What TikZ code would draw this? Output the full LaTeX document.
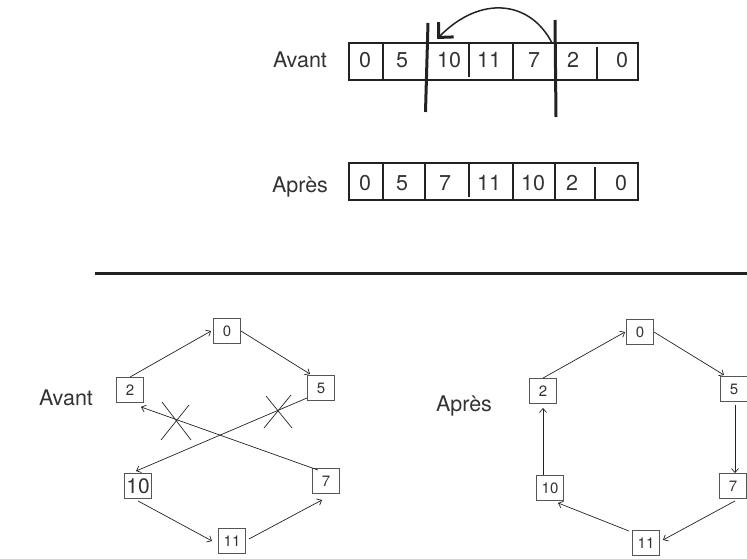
\documentclass[tikz,border=0pt]{standalone}
\usepackage{fontspec}
\setmainfont{TeX Gyre Heros}
\usetikzlibrary{arrows.meta}
\definecolor{txt}{HTML}{333333}
\definecolor{ln}{HTML}{222222}
\definecolor{bx}{HTML}{555555}
\tikzset{
  big/.style={font=\fontsize{21.5}{25}\selectfont, text=txt, inner sep=0pt, anchor=base},
  cellrow/.style={draw=ln, line width=1.3pt},
  bar/.style={draw=ln, line width=3pt},
  gnode/.style={draw=bx, line width=0.9pt, minimum width=27pt, minimum height=25pt, inner sep=0pt,
     font=\fontsize{15}{17}\selectfont, text=txt},
  garrow/.style={draw=ln, line width=0.7pt, -{Straight Barb[length=4pt,width=7pt,line width=0.7pt]}},
  crossline/.style={draw=ln, line width=0.7pt},
  curvearrow/.style={draw=ln, line width=1.5pt, -{Straight Barb[length=11pt,width=21pt,line width=3pt]}}
}
\begin{document}
\begin{tikzpicture}[x=1pt,y=-1pt]
\useasboundingbox (0,0) rectangle (747,559);

% ---------- Top array: Avant ----------
\node[big] (lavant) at (300,68) {Avant};
\draw[cellrow] (349,43) rectangle (638,80);
\draw[cellrow] (383,43) -- (383,80);
\draw[cellrow] (469,43) -- (469,77);
\draw[cellrow] (513,43) -- (513,80);
\draw[cellrow] (597,47) -- (597,80);
\node[big] (t0) at (365,68) {0};
\node[big] (t1) at (402,68) {5};
\node[big] (t2) at (449,68) {10};
\node[big] (t3) at (489,68) {11};
\node[big] (t4) at (534,68) {7};
\node[big] (t5) at (573,68) {2};
\node[big] (t6) at (622,68) {0};
\draw[bar] (428,23) -- (425.5,112);
\draw[bar] (555,20) -- (556,117);
\coordinate (cs) at (552,43);
\coordinate (ce) at (437,39);
\draw[curvearrow] (cs) .. controls (530,0) and (480,-5) .. (ce);

% ---------- Top array: Après ----------
\node[big] (lapres) at (300,192) {Après};
\draw[cellrow] (349,163) rectangle (638,200);
\draw[cellrow] (383,163) -- (383,200);
\draw[cellrow] (425,163) -- (425,200);
\draw[cellrow] (469,163) -- (469,197);
\draw[cellrow] (513,163) -- (513,200);
\draw[cellrow] (555,163) -- (555,200);
\draw[cellrow] (595,167) -- (595,200);
\node[big] (u0) at (365,190) {0};
\node[big] (u1) at (402,190) {5};
\node[big] (u2) at (445,190) {7};
\node[big] (u3) at (489,190) {11};
\node[big] (u4) at (533,190) {10};
\node[big] (u5) at (572,190) {2};
\node[big] (u6) at (621,190) {0};

% ---------- separator ----------
\draw[bar] (95,273) -- (747,273);

% ---------- bottom left graph ----------
\node[big] (bavant) at (66,405) {Avant};
\node[gnode] (a0) at (227,331) {0};
\node[gnode] (a2) at (130,390) {2};
\node[gnode] (a5) at (321,388) {5};
\node[gnode, font=\fontsize{21}{24}\selectfont] (a10) at (138,486) {10};
\node[gnode] (a7) at (326,481) {7};
\node[gnode] (a11) at (232,541) {11};
\draw[garrow] (a2.north) -- ([xshift=-2pt]a0.west);
\draw[garrow] (a0.east) -- ([xshift=3pt,yshift=1pt]a5.north west);
\draw[garrow] ([yshift=3pt]a5.south west) -- ([xshift=-2pt,yshift=2pt]a10.north);
\draw[garrow] ([xshift=-8pt,yshift=-2pt]a7.north) -- ([xshift=-3pt,yshift=-4pt]a2.south east);
\draw[garrow] ([yshift=-2pt]a10.south) -- ([xshift=-6pt]a11.west);
\draw[garrow] ([xshift=3pt,yshift=2pt]a11.east) -- ([xshift=-4pt,yshift=-6pt]a7.south);
\draw[crossline] (162,402) -- (191,440);
\draw[crossline] (189,405) -- (161,440);
\draw[crossline] (266,396) -- (292,428);
\draw[crossline] (291,395) -- (264,428);

% ---------- bottom right graph ----------
\node[big] (bapres) at (464,411) {Après};
\node[gnode] (b0) at (640,332) {0};
\node[gnode] (b2) at (543,391) {2};
\node[gnode] (b5) at (734,389) {5};
\node[gnode] (b10) at (550,488) {10};
\node[gnode] (b7) at (733,486) {7};
\node[gnode] (b11) at (646,543) {11};
\draw[garrow] (b2.north) -- ([xshift=-1pt]b0.west);
\draw[garrow] (b0.east) -- ([xshift=4pt,yshift=1pt]b5.north west);
\draw[garrow] ([xshift=1pt,yshift=-3pt]b5.south) -- ([xshift=2pt]b7.north);
\draw[garrow] ([xshift=2pt,yshift=-2pt]b7.south) -- ([xshift=3pt,yshift=3pt]b11.east);
\draw[garrow] ([xshift=-3pt,yshift=-1pt]b11.north west) -- ([xshift=-6pt,yshift=-2pt]b10.south east);
\draw[garrow] ([xshift=-7pt]b10.north) -- ([xshift=0pt,yshift=-4pt]b2.south);
\end{tikzpicture}
\end{document}
